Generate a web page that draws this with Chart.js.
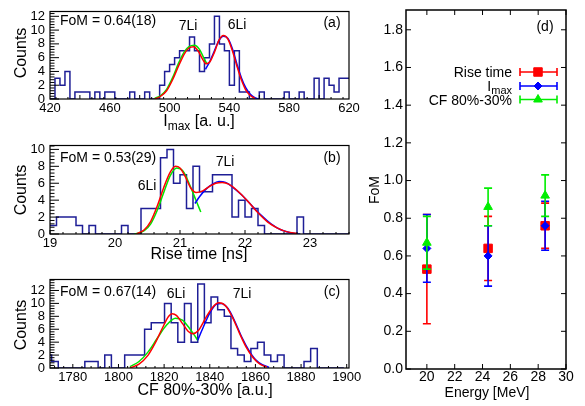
<!DOCTYPE html>
<html>
<head>
<meta charset="utf-8">
<script src="https://cdn.jsdelivr.net/npm/chart.js@4.4.1/dist/chart.umd.min.js"></script>
<style>
  html, body { margin: 0; padding: 0; background: #fff; }
  #wrap { position: relative; width: 585px; height: 406px; overflow: hidden; }
  canvas { position: absolute; }
</style>
</head>
<body>
<div id="wrap">
  <canvas id="panelA" width="365" height="134" style="left:0;top:0"></canvas>
  <canvas id="panelB" width="365" height="134" style="left:0;top:134px"></canvas>
  <canvas id="panelC" width="365" height="138" style="left:0;top:268px"></canvas>
  <canvas id="panelD" width="225" height="406" style="left:360px;top:0"></canvas>
</div>
<script>
// ---- (a) I_max histogram and fits ----
const imaxStart = 420;
const imaxWidth = 200 / 60;
const imaxCounts = [0,0,3,2,4,0,1,1,1,0, 1,0,1,1,0,0,0,1,0,0,
                    1,0,0,2,4,5,6,7,7,9, 7,4,6,8,12,8,7,2,7,1,
                    1,0,0,1,0,0,0,0,1,0, 0,1,0,0,3,0,3,2,1,3];
const imaxRed = [[490,0],[494,0.4],[498,1.2],[502,2.8],[506,4.8],[510,6.6],[513,7.4],[516,7.6],[519,7.0],[522,5.8],
                 [524.5,5.1],[527,5.4],[530,6.8],[533,8.5],[536,9.2],[539,8.7],[542,7.0],[545,4.8],[548,2.8],[551,1.3],[554,0.5],[557,0.1]];
const imaxGreen = [[490,0.1],[494,0.5],[498,1.4],[502,3.1],[506,5.2],[510,6.9],[513,7.6],[516.5,7.8],[520,7.2],[523,5.9],[525,5.1]];
const imaxBlue = [[524,4.3],[527,5.5],[530,7.0],[533,8.5],[536,9.1],[539,8.8],[542,7.3],[545,5.1],[548,3.1],[551,1.6],[554,0.7],[557,0.2],[560,0]];

// ---- (b) rise time histogram and fits ----
const riseStart = 19.0;
const riseWidth = 0.1;
const riseCounts = [1,1,2,2,2,1,0,1,0,0, 0,0,1,0,0,3,3,3,9,10,
                    6,7,3,8,5,5,7,7,7,2, 4,2,3,1,0,0,0,0,0,2,
                    0,0,0,0,0,0];
const riseRed = [[20.33,0],[20.45,0.5],[20.55,1.5],[20.65,3.3],[20.75,5.5],[20.85,7.3],[20.93,8.0],[21.0,7.8],[21.08,6.8],
                 [21.16,5.5],[21.25,4.9],[21.35,5.1],[21.45,5.6],[21.55,6.0],[21.65,6.1],[21.75,5.9],[21.9,5.0],[22.05,3.8],
                 [22.2,2.5],[22.35,1.4],[22.5,0.7],[22.65,0.25],[22.8,0.05]];
const riseGreen = [[20.3,0],[20.45,0.4],[20.55,1.2],[20.65,2.8],[20.75,4.9],[20.85,6.9],[20.95,7.8],[21.05,7.4],[21.15,5.8],[21.25,3.9],[21.32,2.6]];
const riseBlue = [[21.23,3.6],[21.3,4.4],[21.4,5.3],[21.5,5.9],[21.6,6.2],[21.7,6.1],[21.8,5.6],[21.95,4.6],[22.1,3.4],
                  [22.25,2.2],[22.4,1.2],[22.55,0.5],[22.7,0.15],[22.85,0]];

// ---- (c) CF 80%-30% histogram and fits ----
const cfStart = 1767.8;
const cfWidth = 2.91;
const cfCounts = [2,2,1,0,0,0,0,1,1,0, 2,0,0,2,2,2,6,7,7,10,
                  7,4,10,4,13,7,11,9,8,3, 2,1,3,4,2,1,2,0,0,0,
                  1,3,0,0,0];
const cfRed = [[1805,0],[1809,0.6],[1813,2.0],[1816,3.8],[1819,6.0],[1822,8.0],[1823.5,8.4],[1825.5,8.1],[1828,6.9],[1830.5,5.7],
               [1832.5,5.3],[1835,5.8],[1838,7.6],[1841,9.3],[1844,10.1],[1847,9.6],[1850,7.8],[1853,5.4],[1856,3.2],[1859,1.6],[1862,0.6],[1865,0.15]];
const cfGreen = [[1805,0.2],[1809,1.0],[1813,2.5],[1817,4.6],[1821,6.6],[1825,7.7],[1828,7.4],[1831,6.2],[1833,5.2],[1834.7,4.3]];
const cfBlue = [[1834.7,4.3],[1837,6.2],[1840,8.5],[1843,9.9],[1845,10.0],[1848,9.2],[1851,7.2],[1854,4.8],[1857,2.8],[1860,1.3],[1863,0.5],[1866,0.1]];

// ---- (d) FoM vs energy ----
const energy = [20.0, 24.4, 28.5];
const fomRise = [0.53, 0.64, 0.76];
const errRise = [0.29, 0.17, 0.12];
const fomImax = [0.64, 0.60, 0.76];
const errImax = [0.18, 0.16, 0.13];
const fomCF = [0.67, 0.86, 0.92];
const errCF = [0.14, 0.10, 0.11];

const FONT = "'Liberation Sans', Arial, Helvetica, sans-serif";
const HIST = '#1e1e96';

function histPoints(start, width, counts) {
    const pts = counts.map((c, i) => ({ x: start + i * width, y: c }));
    pts.push({ x: start + counts.length * width, y: counts[counts.length - 1] });
    return pts;
}
function pairs(list) { return list.map(p => ({ x: p[0], y: p[1] })); }

function tickValues(min, max, step) {
    const out = [];
    const n0 = Math.ceil(min / step - 1e-9), n1 = Math.floor(max / step + 1e-9);
    for (let n = n0; n <= n1; n++) out.push(n * step);
    return out;
}

function drawText(ctx, t) {
    ctx.save();
    ctx.fillStyle = '#000';
    ctx.textBaseline = t.rot ? 'middle' : 'alphabetic';
    const parts = t.parts || [{ text: t.text, size: t.size }];
    let total = 0;
    parts.forEach(p => { ctx.font = p.size + 'px ' + FONT; p.w = ctx.measureText(p.text).width; total += p.w; });
    ctx.translate(t.x, t.y);
    if (t.rot) ctx.rotate(t.rot * Math.PI / 180);
    let x = t.align === 'center' ? -total / 2 : t.align === 'right' ? -total : 0;
    ctx.textAlign = 'left';
    parts.forEach(p => { ctx.font = p.size + 'px ' + FONT; ctx.fillText(p.text, x, p.dy || 0); x += p.w; });
    ctx.restore();
}

function drawMarker(ctx, style, r, x, y, color) {
    ctx.fillStyle = color; ctx.strokeStyle = color; ctx.lineWidth = 1;
    Chart.helpers.drawPoint(ctx, { pointStyle: style, radius: r, rotation: 0, borderWidth: 1 }, x, y);
}

// frame, inward ticks, annotation texts and legend
const decor = {
    id: 'decor',
    afterDraw(chart, args, o) {
        const ctx = chart.ctx, a = chart.chartArea;
        const xs = chart.scales.x, ys = chart.scales.y;
        ctx.save();
        ctx.strokeStyle = '#000';
        ctx.lineWidth = o.frameWidth;
        ctx.strokeRect(a.left, a.top, a.right - a.left, a.bottom - a.top);
        ctx.lineWidth = 1;
        ctx.beginPath();
        tickValues(xs.min, xs.max, o.xMinor).forEach(v => {
            const major = Math.abs(v / o.xMajor - Math.round(v / o.xMajor)) < 1e-6;
            const len = major ? o.xLen : o.xLen / 2;
            const p = xs.getPixelForValue(v);
            ctx.moveTo(p, a.bottom); ctx.lineTo(p, a.bottom - len);
            if (o.mirror) { ctx.moveTo(p, a.top); ctx.lineTo(p, a.top + len); }
        });
        tickValues(ys.min, ys.max, o.yMinor).forEach(v => {
            const major = Math.abs(v / o.yMajor - Math.round(v / o.yMajor)) < 1e-6;
            const len = major ? o.yLen : o.yLen / 2;
            const p = ys.getPixelForValue(v);
            ctx.moveTo(a.left, p); ctx.lineTo(a.left + len, p);
            if (o.mirror) { ctx.moveTo(a.right, p); ctx.lineTo(a.right - len, p); }
        });
        ctx.stroke();
        (o.texts || []).forEach(t => drawText(ctx, t));
        if (o.legend) {
            const L = o.legend;
            L.items.forEach(it => {
                ctx.strokeStyle = it.color; ctx.lineWidth = 1.6;
                ctx.beginPath();
                ctx.moveTo(L.x0, it.y); ctx.lineTo(L.x1, it.y);
                ctx.moveTo(L.x0, it.y - 4); ctx.lineTo(L.x0, it.y + 4);
                ctx.moveTo(L.x1, it.y - 4); ctx.lineTo(L.x1, it.y + 4);
                ctx.stroke();
                drawMarker(ctx, it.style, it.r, L.xm, it.y, it.color);
                drawText(ctx, { parts: it.parts, x: L.textRight, y: it.y + 5, align: 'right' });
            });
        }
        ctx.restore();
    }
};

const errorBars = {
    id: 'errorBars',
    beforeDatasetDraw(chart, args) {
        const ds = chart.data.datasets[args.index];
        if (!ds.errors) return;
        const ctx = chart.ctx, xs = chart.scales.x, ys = chart.scales.y;
        ctx.save();
        ctx.strokeStyle = ds.borderColor;
        ctx.lineWidth = 1.6;
        ctx.beginPath();
        ds.data.forEach((p, i) => {
            const x = xs.getPixelForValue(p.x);
            const y0 = ys.getPixelForValue(p.y - ds.errors[i]);
            const y1 = ys.getPixelForValue(p.y + ds.errors[i]);
            ctx.moveTo(x, y0); ctx.lineTo(x, y1);
            ctx.moveTo(x - 4, y0); ctx.lineTo(x + 4, y0);
            ctx.moveTo(x - 4, y1); ctx.lineTo(x + 4, y1);
        });
        ctx.stroke();
        ctx.restore();
    }
};

function axis(min, max, step, fmt, size, pad, fit, isX) {
    return {
        type: 'linear', min: min, max: max,
        afterFit: s => { if (isX) s.height = fit; else s.width = fit; },
        ticks: { stepSize: step, includeBounds: false, autoSkip: false, maxRotation: 0, padding: pad,
                 color: '#000', font: { family: FONT, size: size, lineHeight: 1 }, callback: fmt },
        grid: { display: false, drawTicks: false },
        border: { display: false }
    };
}

function curve(pts, color, order) {
    return { data: pairs(pts), borderColor: color, borderWidth: 1.5, pointRadius: 0, fill: false,
             cubicInterpolationMode: 'monotone', order: order };
}

function histChart(id, o) {
    return new Chart(document.getElementById(id), {
        type: 'line',
        data: { datasets: [
            { data: histPoints(o.start, o.width, o.counts), stepped: 'after', borderColor: HIST,
              borderWidth: 1.5, pointRadius: 0, fill: false, order: 4 },
            curve(o.green, '#00e600', 3),
            curve(o.blue, '#0000ff', 2),
            curve(o.red, '#ff0000', 1)
        ]},
        options: {
            responsive: false, animation: false, events: [],
            layout: { padding: { left: 0, right: 16, top: o.top, bottom: 0 } },
            scales: {
                x: axis(o.xmin, o.xmax, o.xstep, v => String(v), 13, 3, o.xfit, true),
                y: axis(0, o.ymax, 2, v => String(v), 13, 5, 50, false)
            },
            plugins: {
                legend: { display: false }, tooltip: { enabled: false },
                decor: { frameWidth: 1.2, xMajor: o.xstep, xMinor: o.xminor, yMajor: 2, yMinor: 0.4,
                         xLen: 4, yLen: 9, mirror: false, texts: o.texts }
            }
        },
        plugins: [decor]
    });
}

histChart('panelA', {
    start: imaxStart, width: imaxWidth, counts: imaxCounts, red: imaxRed, green: imaxGreen, blue: imaxBlue,
    xmin: 420, xmax: 620, xstep: 40, xminor: 8, ymax: 12.7, top: 7, xfit: 35,
    texts: [
        { text: 'Counts', size: 16, x: 22, y: 53, rot: -90, align: 'center' },
        { text: 'FoM = 0.64(18)', size: 14, x: 60, y: 25 },
        { text: '7Li', size: 14, x: 188, y: 30, align: 'center' },
        { text: '6Li', size: 14, x: 237, y: 29, align: 'center' },
        { text: '(a)', size: 14, x: 332, y: 27, align: 'center' },
        { parts: [{ text: 'I', size: 16 }, { text: 'max', size: 12, dy: 4 }, { text: ' [a. u.]', size: 16 }],
          x: 199, y: 126, align: 'center' }
    ]
});

histChart('panelB', {
    start: riseStart, width: riseWidth, counts: riseCounts, red: riseRed, green: riseGreen, blue: riseBlue,
    xmin: 19, xmax: 23.6, xstep: 1, xminor: 0.2, ymax: 10.46, top: 9, xfit: 34,
    texts: [
        { text: 'Counts', size: 16, x: 22, y: 56, rot: -90, align: 'center' },
        { text: 'FoM = 0.53(29)', size: 14, x: 60, y: 28 },
        { text: '6Li', size: 14, x: 147, y: 56, align: 'center' },
        { text: '7Li', size: 14, x: 225, y: 32, align: 'center' },
        { text: '(b)', size: 14, x: 332, y: 28, align: 'center' },
        { text: 'Rise time [ns]', size: 16, x: 199, y: 125, align: 'center' }
    ]
});

histChart('panelC', {
    start: cfStart, width: cfWidth, counts: cfCounts, red: cfRed, green: cfGreen, blue: cfBlue,
    xmin: 1770, xmax: 1901, xstep: 20, xminor: 4, ymax: 13.7, top: 10, xfit: 38,
    texts: [
        { text: 'Counts', size: 16, x: 22, y: 57, rot: -90, align: 'center' },
        { text: 'FoM = 0.67(14)', size: 14, x: 60, y: 28 },
        { text: '6Li', size: 14, x: 176, y: 30, align: 'center' },
        { text: '7Li', size: 14, x: 242, y: 30, align: 'center' },
        { text: '(c)', size: 14, x: 332, y: 28, align: 'center' },
        { text: 'CF 80%-30% [a.u.]', size: 16, x: 205, y: 127, align: 'center' }
    ]
});

function fomSet(ys, errs, color, style, r, order) {
    return { data: energy.map((e, i) => ({ x: e, y: ys[i] })), errors: errs, showLine: false,
             borderColor: color, backgroundColor: color, pointStyle: style, pointRadius: r,
             pointBorderWidth: 1, order: order };
}

new Chart(document.getElementById('panelD'), {
    type: 'scatter',
    data: { datasets: [
        fomSet(fomRise, errRise, '#ff0000', 'rect', 6, 3),
        fomSet(fomImax, errImax, '#0000ff', 'rectRot', 4, 2),
        fomSet(fomCF, errCF, '#00ee00', 'triangle', 5, 1)
    ]},
    options: {
        responsive: false, animation: false, events: [],
        layout: { padding: { left: 0, right: 19, top: 7, bottom: 0 } },
        scales: {
            x: axis(18.5, 30, 2, v => String(v), 14, 1, 37, true),
            y: axis(0, 1.905, 0.2, v => v.toFixed(1), 14, 3, 46, false)
        },
        plugins: {
            legend: { display: false }, tooltip: { enabled: false },
            decor: {
                frameWidth: 1.5, xMajor: 2, xMinor: 2, yMajor: 0.2, yMinor: 0.2, xLen: 5, yLen: 5, mirror: true,
                texts: [
                    { text: '(d)', size: 14, x: 185, y: 31, align: 'center' },
                    { text: 'FoM', size: 14, x: 15, y: 190, rot: -90, align: 'center' },
                    { text: 'Energy [MeV]', size: 14, x: 127, y: 397, align: 'center' }
                ],
                legend: {
                    x0: 160, x1: 197, xm: 178, textRight: 152,
                    items: [
                        { parts: [{ text: 'Rise time', size: 14 }], color: '#ff0000', style: 'rect', r: 6, y: 72 },
                        { parts: [{ text: 'I', size: 14 }, { text: 'max', size: 11, dy: 3 }], color: '#0000ff', style: 'rectRot', r: 4, y: 86 },
                        { parts: [{ text: 'CF 80%-30%', size: 14 }], color: '#00ee00', style: 'triangle', r: 5, y: 99.5 }
                    ]
                }
            }
        }
    },
    plugins: [errorBars, decor]
});
</script>
</body>
</html>
